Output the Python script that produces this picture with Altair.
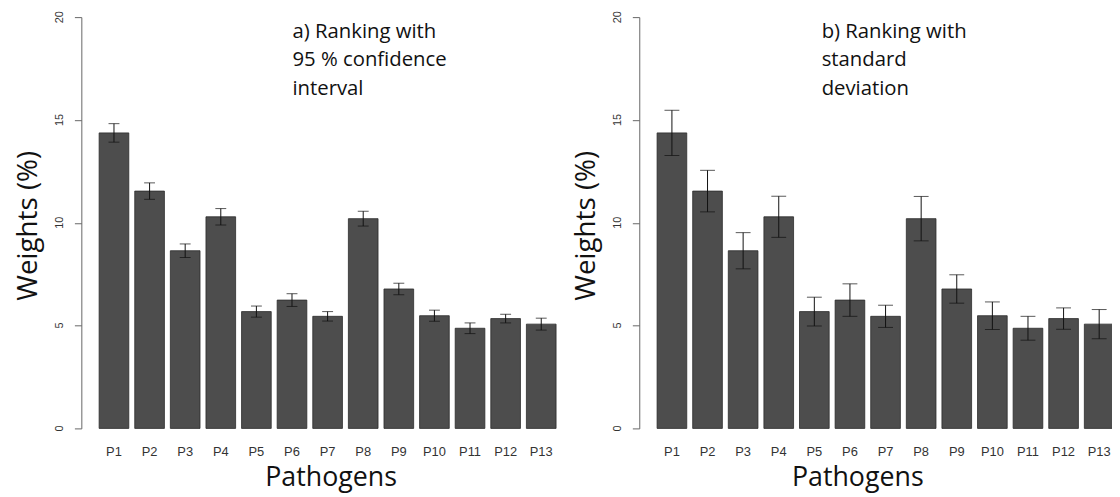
import altair as alt
import pandas as pd

# ---- data ----
pathogens = ["P1", "P2", "P3", "P4", "P5", "P6", "P7", "P8", "P9", "P10", "P11", "P12", "P13"]
weights = [14.37, 11.54, 8.64, 10.29, 5.68, 6.24, 5.45, 10.20, 6.78, 5.48, 4.87, 5.34, 5.07]
ci95 = [0.45, 0.40, 0.33, 0.40, 0.27, 0.31, 0.23, 0.36, 0.28, 0.27, 0.26, 0.21, 0.29]
stdev = [1.10, 1.01, 0.88, 1.00, 0.70, 0.79, 0.54, 1.08, 0.69, 0.67, 0.58, 0.52, 0.71]
y_ticks = [0, 5, 10, 15, 20]
note_a = ["a) Ranking with", "95 % confidence", "interval"]
note_b = ["b) Ranking with", "standard", "deviation"]

W, H = 497, 415
BAR = "#4d4d4d"
LABEL_FONT = "Liberation Sans"
TITLE_FONT = "Open Sans"


def panel(err, note, note_x, cap, title_x):
    df = pd.DataFrame({
        "p": pathogens,
        "w": weights,
        "lo": [m - e for m, e in zip(weights, err)],
        "hi": [m + e for m, e in zip(weights, err)],
    })
    x = alt.X(
        "p:N", sort=pathogens,
        scale=alt.Scale(paddingInner=0.1667, paddingOuter=0.5),
        axis=alt.Axis(
            title="Pathogens", domain=False, ticks=False, tickSize=0, labelAngle=0,
            labelFont=LABEL_FONT, labelFontSize=13, labelColor="#333333",
            labelBaseline="top", labelPadding=17,
            titleFont=TITLE_FONT, titleFontSize=27, titleFontWeight="normal",
            titleColor="#111111", titleX=title_x, titleY=58,
            titleBaseline="alphabetic", titleAlign="center",
        ),
    )
    y_scale = alt.Scale(domain=[0, 20], nice=False, zero=True)
    base = alt.Chart(df)
    bars = base.mark_bar(color=BAR, stroke="#2b2b2b", strokeWidth=0.8).encode(
        x=x,
        y=alt.Y(
            "w:Q", scale=y_scale,
            axis=alt.Axis(
                title="Weights (%)", values=y_ticks, grid=False, labels=False,
                domainColor="#666666", tickColor="#666666", tickSize=7,
                titleFont=TITLE_FONT, titleFontSize=28, titleFontWeight="normal",
                titleColor="#111111", titleAngle=-90, titleX=-45, titleY=210,
                titleBaseline="alphabetic", titleAlign="center",
            ),
        ),
    )
    rules = base.mark_rule(color="#111111", strokeWidth=1).encode(
        x=alt.X("p:N", sort=pathogens), y=alt.Y("lo:Q", scale=y_scale), y2="hi:Q"
    )
    caps_lo = base.mark_tick(color="#111111", thickness=1, size=cap, orient="horizontal").encode(
        x=alt.X("p:N", sort=pathogens), y=alt.Y("lo:Q", scale=y_scale)
    )
    caps_hi = base.mark_tick(color="#111111", thickness=1, size=cap, orient="horizontal").encode(
        x=alt.X("p:N", sort=pathogens), y=alt.Y("hi:Q", scale=y_scale)
    )
    # rotated y tick labels (R style, parallel to the axis)
    ylabels = alt.Chart(pd.DataFrame({"t": y_ticks})).mark_text(
        font=LABEL_FONT, fontSize=11, color="#333333", angle=270,
        align="center", baseline="alphabetic",
    ).encode(
        x=alt.value(-18),
        y=alt.Y("t:Q", scale=y_scale),
        text=alt.Text("t:Q", format="d"),
    )
    text = alt.Chart(pd.DataFrame({"k": [0]})).mark_text(
        font=TITLE_FONT, fontSize=20.5, color="#111111", align="left",
        baseline="alphabetic", lineHeight=28.7,
    ).encode(x=alt.value(note_x), y=alt.value(21), text=alt.value(note))
    return alt.layer(bars, rules, caps_lo, caps_hi, ylabels, text).properties(width=W, height=H)


left = panel(ci95, note_a, 213, 11, 251.5)
right = panel(stdev, note_b, 184, 15, 220)

chart = alt.hconcat(left, right, spacing=66, bounds="flush").properties(
    padding={"left": 7, "top": 0, "right": -20, "bottom": 2}
).configure_view(stroke=None).configure_axis(labelOverlap=False)

chart.save("out.html", embed_options={"renderer": "svg", "actions": False})
